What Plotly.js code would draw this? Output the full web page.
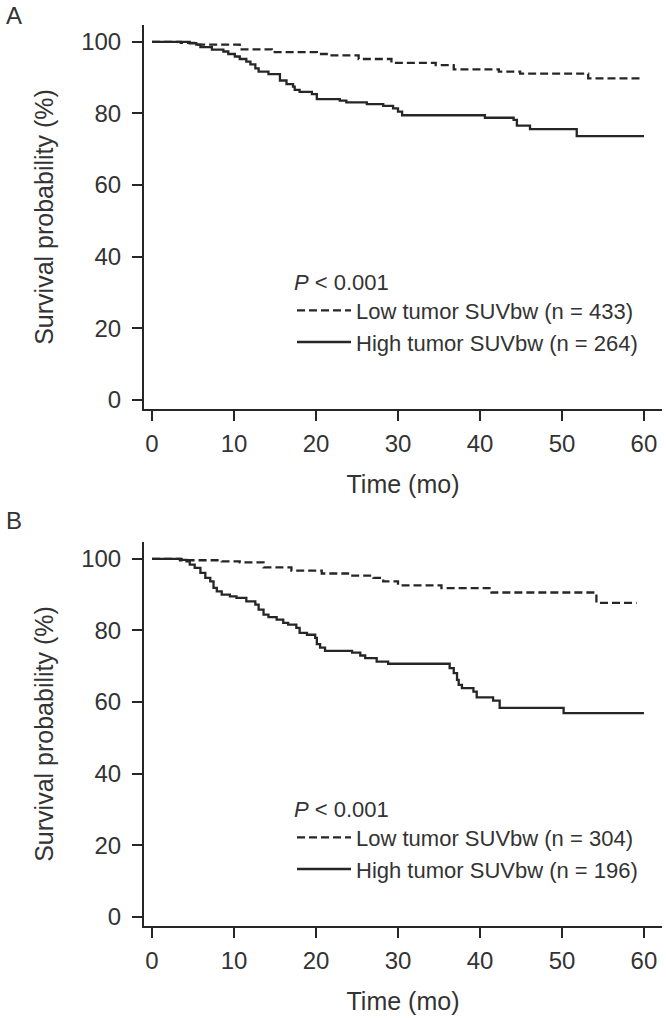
<!DOCTYPE html>
<html>
<head>
<meta charset="utf-8">
<script src="https://cdn.plot.ly/plotly-3.0.1.min.js"></script>
<style>
html,body{margin:0;padding:0;background:#fff;}
#chart{width:666px;height:1018px;}
</style>
</head>
<body>
<div id="chart"></div>
<script>
// Panel A (step points: time in months, survival %)
const aLowT  = [0, 3.5, 5.5, 10.7, 14.6, 20.1, 21.7, 25.2, 29.2, 34.6, 36.8, 42.3, 44.9, 53.2, 59.5];
const aLowS  = [100, 99.7, 99.2, 97.9, 97.1, 96.6, 96.2, 95.2, 94.1, 93.5, 92.3, 91.7, 91.1, 89.8, 89.8];
const aHighT = [0, 4.6, 5.4, 5.9, 7.3, 8.7, 9.3, 10.1, 10.7, 11.5, 12.0, 12.6, 13.0, 14.2, 15.6, 16.4, 17.2, 17.4, 18.0, 19.5, 20.1, 22.9, 23.7, 26.2, 28.2, 29.4, 30.0, 30.5, 40.6, 44.1, 44.5, 46.1, 51.8, 60.0];
const aHighS = [100, 99.6, 99.2, 98.5, 97.8, 97.3, 96.6, 95.9, 95.2, 94.5, 93.7, 92.6, 91.7, 91.0, 89.2, 88.2, 87.5, 86.6, 86.0, 85.4, 84.0, 83.6, 83.1, 82.6, 82.1, 81.4, 80.5, 79.5, 78.8, 78.2, 76.6, 75.6, 73.7, 73.7];

// Panel B
const bLowT  = [0, 3.4, 8.5, 10.7, 13.6, 17.0, 20.7, 23.9, 27.0, 28.2, 30.0, 35.3, 41.4, 54.2, 59.1];
const bLowS  = [100, 99.6, 99.3, 99.0, 97.6, 96.7, 95.9, 95.3, 94.7, 93.7, 92.6, 91.8, 90.6, 87.7, 87.7];
const bHighT = [0, 3.6, 4.2, 4.6, 5.2, 5.9, 6.5, 7.1, 7.5, 7.9, 8.5, 9.5, 10.3, 11.5, 12.6, 13.0, 13.6, 14.2, 15.2, 16.0, 16.6, 17.6, 18.0, 18.9, 19.9, 20.1, 20.5, 21.1, 24.4, 25.4, 26.0, 27.4, 28.8, 36.3, 36.8, 37.2, 37.4, 37.8, 39.2, 39.6, 41.6, 42.4, 50.2, 60.0];
const bHighS = [100, 99.7, 99.3, 98.4, 97.5, 96.1, 94.7, 93.7, 91.9, 90.9, 90.0, 89.5, 89.1, 88.1, 87.2, 85.8, 84.4, 83.7, 83.0, 82.1, 81.6, 80.7, 79.3, 78.8, 77.9, 76.2, 75.2, 74.3, 73.8, 73.0, 72.3, 71.3, 70.7, 69.5, 68.1, 66.2, 64.8, 63.9, 62.9, 61.3, 60.4, 58.4, 56.9, 56.9];

const lowNameA  = 'Low tumor SUVbw (n = 433)';
const highNameA = 'High tumor SUVbw (n = 264)';
const lowNameB  = 'Low tumor SUVbw (n = 304)';
const highNameB = 'High tumor SUVbw (n = 196)';
const pText = '<i>P</i> < 0.001';
const xTicks = [0, 10, 20, 30, 40, 50, 60];
const yTicks = [0, 20, 40, 60, 80, 100];

const ink = '#262626';
const txt = '#333333';
const FONT = 'Liberation Sans, Arial, Helvetica, sans-serif';

function tr(x, y, name, dash, xa, ya, leg) {
  return {x: x, y: y, name: name, type: 'scatter', mode: 'lines',
    line: {shape: 'hv', color: ink, width: 2.3, dash: dash},
    xaxis: xa, yaxis: ya, legend: leg, hoverinfo: 'skip'};
}

const data = [
  tr(aLowT, aLowS, lowNameA, '8px,4px', 'x', 'y', 'legend'),
  tr(aHighT, aHighS, highNameA, 'solid', 'x', 'y', 'legend'),
  tr(bLowT, bLowS, lowNameB, '8px,4px', 'x2', 'y2', 'legend2'),
  tr(bHighT, bHighS, highNameB, 'solid', 'x2', 'y2', 'legend2')
];

function xax(anchor) {
  return {anchor: anchor, domain: [0, 1], range: [-0.98, 62.2], tickvals: xTicks,
    ticks: 'outside', ticklen: 10, tickwidth: 2, tickcolor: ink,
    showline: true, linewidth: 2, linecolor: ink, showgrid: false, zeroline: false,
    tickfont: {size: 24, color: txt}, ticklabelstandoff: 2,
    title: {text: 'Time (mo)', font: {size: 25, color: txt}, standoff: 20},
    fixedrange: true};
}
function yax(anchor, dom) {
  return {anchor: anchor, domain: dom, range: [-2.52, 104.7], tickvals: yTicks,
    ticks: 'outside', ticklen: 10, tickwidth: 2, tickcolor: ink,
    showline: true, linewidth: 2, linecolor: ink, showgrid: false, zeroline: false,
    tickfont: {size: 24, color: txt}, ticklabelstandoff: 6,
    title: {text: 'Survival probability (%)', font: {size: 25, color: txt}, standoff: 20},
    fixedrange: true};
}
function leg() {
  return {xref: 'paper', yref: 'paper', xanchor: 'left', yanchor: 'top',
    bgcolor: 'rgba(0,0,0,0)', borderwidth: 0, itemwidth: 54, tracegroupgap: 0,
    font: {size: 22, color: txt, family: FONT},
    title: {text: pText, font: {size: 22, color: txt, family: FONT}, side: 'top'},
    itemclick: false, itemdoubleclick: false};
}

const plotW = 666 - 144 - 4, plotH = 1018 - 25 - 92;
function px2paperX(px) { return (px - 144) / plotW; }
function px2paperY(py) { return (1018 - 92 - py) / plotH; }

const layout = {
  width: 666, height: 1018,
  margin: {l: 144, r: 4, t: 25, b: 92},
  paper_bgcolor: '#fff', plot_bgcolor: '#fff',
  font: {family: FONT, color: txt, size: 22},
  showlegend: true,
  xaxis: xax('y'),
  yaxis: yax('x', [0.5738, 1]),
  xaxis2: xax('y2'),
  yaxis2: yax('x2', [0, 0.4262]),
  legend: leg(),
  legend2: leg(),
  annotations: [
    {text: 'A', x: px2paperX(14), y: px2paperY(15), xref: 'paper', yref: 'paper', xanchor: 'center', yanchor: 'middle', showarrow: false, font: {size: 24, color: txt}},
    {text: 'B', x: px2paperX(14), y: px2paperY(520), xref: 'paper', yref: 'paper', xanchor: 'center', yanchor: 'middle', showarrow: false, font: {size: 24, color: txt}}
  ]
};
layout.legend.x = px2paperX(292); layout.legend.y = px2paperY(261);
layout.legend2.x = px2paperX(292); layout.legend2.y = px2paperY(788);

Plotly.newPlot('chart', data, layout, {displayModeBar: false, staticPlot: true});
</script>
</body>
</html>
